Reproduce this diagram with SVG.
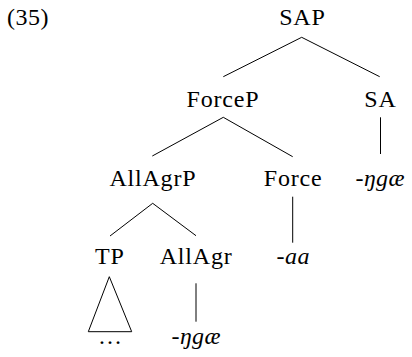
<svg xmlns="http://www.w3.org/2000/svg" width="412" height="357" viewBox="0 0 412 357">
<style>
text{font-family:'Liberation Serif','DejaVu Serif',serif;font-size:24px;fill:#000;text-anchor:middle;letter-spacing:0.8px}
.it{font-style:italic;letter-spacing:0.5px}
.lines line,.lines polygon{stroke:#000;stroke-width:1;fill:none}
</style>
<rect width="412" height="357" fill="#fff"/>
<text x="7" y="24.5" style="text-anchor:start;letter-spacing:0.5px">(35)</text>
<g class="lines" id="connectors">
<line x1="301.7" y1="37.3" x2="223.3" y2="76.7"/>
<line x1="301.7" y1="37.3" x2="379.7" y2="76.7"/>
<line x1="223.3" y1="117.3" x2="152.3" y2="156"/>
<line x1="223.3" y1="117.3" x2="292.7" y2="156.7"/>
<line x1="380.5" y1="117.3" x2="380.5" y2="154"/>
<line x1="152.7" y1="203.3" x2="110" y2="236"/>
<line x1="152.7" y1="203.3" x2="196" y2="235.7"/>
<line x1="292.7" y1="196.7" x2="292.7" y2="242.7"/>
<line x1="196" y1="283.3" x2="196" y2="321.7"/>
<polygon points="109.3,276.7 88.3,331.7 131.7,331.7"/>
</g>
<g id="n-SAP"><text x="302.4" y="24.5">SAP</text></g>
<g id="n-ForceP"><text x="222.9" y="107.3">ForceP</text></g>
<g id="n-SA"><text x="380.4" y="107.3">SA</text></g>
<g id="n-SA-leaf"><text class="it" x="380.2" y="185.5">-ŋgæ</text></g>
<g id="n-AllAgrP"><text x="152.9" y="185.5">AllAgrP</text></g>
<g id="n-Force"><text x="293.1" y="185.5">Force</text></g>
<g id="n-Force-leaf"><text class="it" x="293.2" y="264.3">-aa</text></g>
<g id="n-TP"><text x="109.9" y="264.3">TP</text></g>
<g id="n-AllAgr"><text x="196.1" y="264.3">AllAgr</text></g>
<g id="n-TP-leaf"><text x="110.4" y="343.5">…</text></g>
<g id="n-AllAgr-leaf"><text class="it" x="196.2" y="343.5">-ŋgæ</text></g>
</svg>
